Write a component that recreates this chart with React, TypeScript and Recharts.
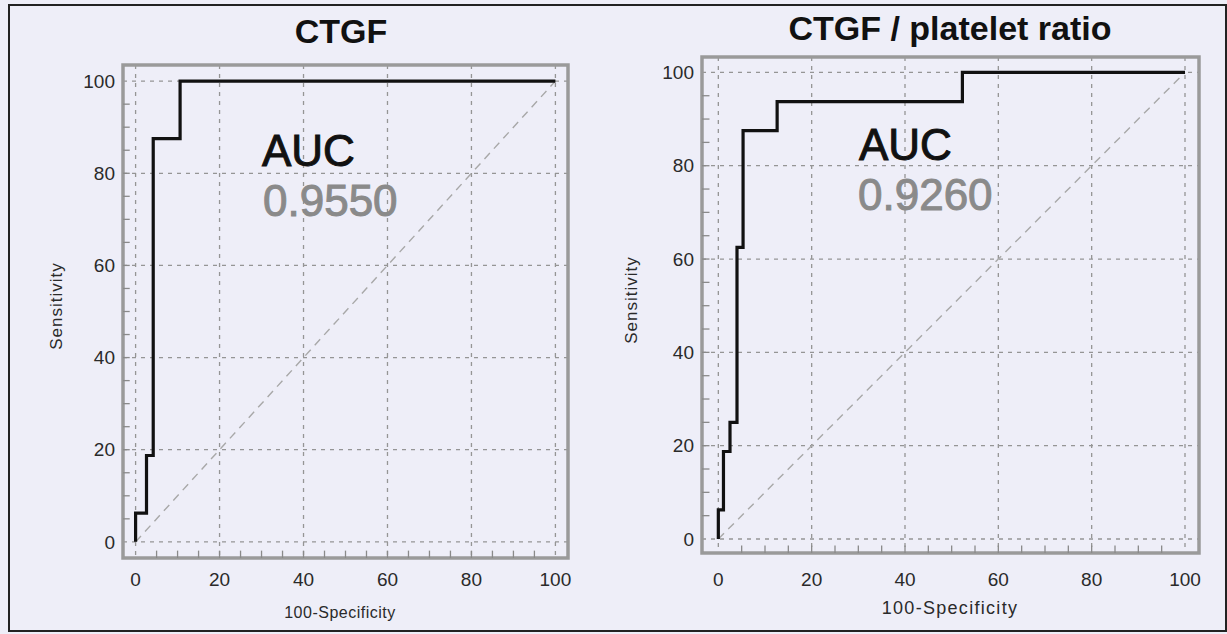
import { CartesianGrid, Line, LineChart, ReferenceArea, ReferenceLine, XAxis, YAxis } from "recharts";

// ROC corner points (100-specificity, sensitivity), drawn as steps
const ctgfFpr = [0, 0, 2.6, 4.2, 10.6, 100];
const ctgfSens = [0, 6.25, 18.75, 87.5, 100, 100];

const ratioFpr = [0, 0, 1.1, 2.5, 4, 5.3, 12.6, 52.3, 100];
const ratioSens = [0, 6.25, 18.75, 25, 62.5, 87.5, 93.75, 100, 100];

const chanceLine = [0, 100];
const majorTicks = [0, 20, 40, 60, 80, 100];
const minorTicks = [5, 10, 15, 20, 25, 30, 35, 40, 45, 50, 55, 60, 65, 70, 75, 80, 85, 90, 95];

const titles = ["CTGF", "CTGF / platelet ratio"];
const aucValues = ["0.9550", "0.9260"];

const FONT = "'Liberation Sans', Arial, sans-serif";
const BG = "#eeeef8";

type Panel = {
  fpr: number[];
  sens: number[];
  left: number;
  width: number;
  top: number;
  right: number;
  axisW: number;
  axisH: number;
  xTickGap: number;
  xd: [number, number];
  yd: [number, number];
};

function RocPanel({ fpr, sens, left, width, top, right, axisW, axisH, xTickGap, xd, yd }: Panel) {
  const points = fpr.map((x, i) => ({ x, y: sens[i] }));
  const diag = chanceLine.map((v) => ({ x: v, y: v }));
  const tickStyle = { fontSize: 19, fill: "#2a2a2a", fontFamily: FONT };
  return (
    <div style={{ position: "absolute", left, top: 0 }}>
      <LineChart width={width} height={634} margin={{ top, right, bottom: 0, left: 0 }}>
        <CartesianGrid stroke="#959595" strokeWidth={1.3} strokeDasharray="4 5" />
        <XAxis
          type="number"
          dataKey="x"
          domain={xd}
          ticks={majorTicks}
          allowDataOverflow
          axisLine={false}
          tickLine={false}
          tickSize={0}
          tickMargin={xTickGap}
          height={axisH}
          tick={tickStyle}
        />
        <YAxis
          type="number"
          dataKey="y"
          domain={yd}
          ticks={majorTicks}
          allowDataOverflow
          axisLine={false}
          tickLine={false}
          tickSize={0}
          tickMargin={8}
          width={axisW}
          tick={tickStyle}
        />
        {minorTicks.map((v) => (
          <ReferenceLine
            key={"mx" + v}
            segment={[{ x: v, y: yd[0] }, { x: v, y: yd[0] + 1.6 }]}
            stroke="#8a8a8a"
            strokeWidth={1.3}
          />
        ))}
        {minorTicks.map((v) => (
          <ReferenceLine
            key={"my" + v}
            segment={[{ x: xd[0], y: v }, { x: xd[0] + 1.6, y: v }]}
            stroke="#8a8a8a"
            strokeWidth={1.3}
          />
        ))}
        <Line
          data={diag}
          dataKey="y"
          type="linear"
          stroke="#a8a8a8"
          strokeWidth={1.4}
          strokeDasharray="8 6"
          dot={false}
          isAnimationActive={false}
        />
        <Line
          data={points}
          dataKey="y"
          type="stepAfter"
          stroke="#111"
          strokeWidth={3.2}
          dot={false}
          isAnimationActive={false}
        />
        <ReferenceArea
          x1={xd[0]}
          x2={xd[1]}
          y1={yd[0]}
          y2={yd[1]}
          fill="none"
          stroke="#9a9a9a"
          strokeWidth={3.5}
          ifOverflow="visible"
        />
      </LineChart>
    </div>
  );
}

export default function App() {
  return (
    <div style={{ position: "absolute", left: 0, top: 0, width: 1227, height: 634, background: BG, overflow: "hidden" }}>
      <div
        style={{
          position: "absolute",
          left: 8,
          top: 4,
          width: 1219,
          height: 628,
          boxSizing: "border-box",
          border: "2px solid #222",
        }}
      />
      <RocPanel
        fpr={ctgfFpr}
        sens={ctgfSens}
        left={0}
        width={620}
        top={65}
        right={52}
        axisW={123}
        axisH={76}
        xTickGap={15}
        xd={[-3, 103]}
        yd={[-3.5, 103.5]}
      />
      <RocPanel
        fpr={ratioFpr}
        sens={ratioSens}
        left={620}
        width={607}
        top={57}
        right={28}
        axisW={82}
        axisH={81}
        xTickGap={20}
        xd={[-3.5, 103]}
        yd={[-3, 103.3]}
      />
      <svg
        width={1227}
        height={634}
        style={{ position: "absolute", left: 0, top: 0, pointerEvents: "none" }}
        fontFamily={FONT}
      >
        <text x={341} y={43} textAnchor="middle" fontSize={34} fontWeight="bold" fill="#111">
          {titles[0]}
        </text>
        <text x={950} y={40} textAnchor="middle" fontSize={34} fontWeight="bold" fill="#111">
          {titles[1]}
        </text>

        <text x={262} y={166} fontSize={44} fill="#111" stroke="#111" strokeWidth={1}>AUC</text>
        <text x={263} y={216} fontSize={44} fill="#8a8a8a" stroke="#8a8a8a" strokeWidth={1}>{aucValues[0]}</text>
        <text x={859} y={160} fontSize={44} fill="#111" stroke="#111" strokeWidth={1}>AUC</text>
        <text x={858} y={210} fontSize={44} fill="#8a8a8a" stroke="#8a8a8a" strokeWidth={1}>{aucValues[1]}</text>

        <text x={62} y={306} textAnchor="middle" fontSize={17} letterSpacing={1} fill="#2a2a2a" transform="rotate(-90 62 306)">
          Sensitivity
        </text>
        <text x={637} y={300} textAnchor="middle" fontSize={17} letterSpacing={1} fill="#2a2a2a" transform="rotate(-90 637 300)">
          Sensitivity
        </text>
        <text x={340} y={618} textAnchor="middle" fontSize={16} letterSpacing={0.5} fill="#2a2a2a">
          100-Specificity
        </text>
        <text x={950} y={614} textAnchor="middle" fontSize={18} letterSpacing={1.3} fill="#2a2a2a">
          100-Specificity
        </text>
      </svg>
    </div>
  );
}
